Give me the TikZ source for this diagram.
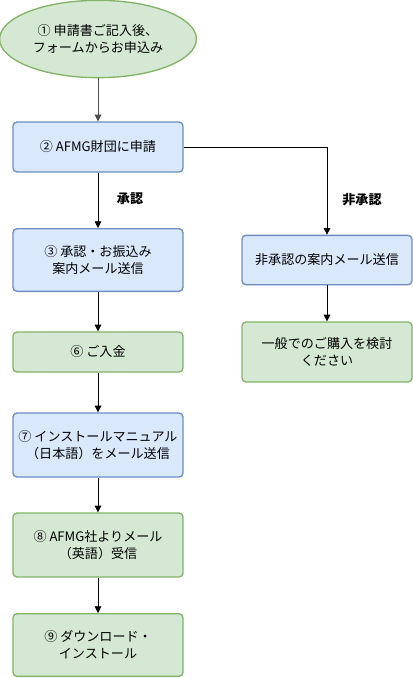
\documentclass[tikz,border=0pt]{standalone}
\usepackage{fontspec}
\setmainfont{Noto Sans CJK JP}
\usetikzlibrary{arrows.meta,shapes.geometric}
\definecolor{bluefill}{HTML}{DAE8FC}
\definecolor{blueline}{HTML}{6C8EBF}
\definecolor{greenfill}{HTML}{D5E8D4}
\definecolor{greenline}{HTML}{82B366}
\tikzset{
    box/.style={rectangle, rounded corners=3pt, line width=1pt, align=center,
        minimum width=127.5pt, font=\fontsize{9.8}{13}\selectfont, inner sep=2pt},
    bluebox/.style={box, draw=blueline, fill=bluefill},
    greenbox/.style={box, draw=greenline, fill=greenfill},
    flow/.style={-{Triangle[length=5pt,width=5pt]}, line width=0.6pt}
}
\begin{document}
\begin{tikzpicture}[x=0.75pt,y=-0.75pt]
            \useasboundingbox (0,0) rectangle (413,678);
            \path (98,39) node [ellipse, draw=greenline, fill=greenfill, line width=1pt,
                minimum width=144pt, minimum height=58pt, align=center,
                font=\fontsize{9.8}{13}\selectfont] (apply) {① 申請書ご記入後、\\フォームからお申込み};
            \path (98,147) node [bluebox, minimum height=37.5pt] (submit) {② AFMG財団に申請};
            \path (98,260) node [bluebox, minimum height=47pt] (approve) {③ 承認・お振込み\\案内メール送信};
            \path (98,352) node [greenbox, minimum height=30pt] (pay) {⑥ ご入金};
            \path (98,445) node [bluebox, minimum height=48pt] (manual) {⑦ インストールマニュアル\\（日本語）をメール送信};
            \path (98,545) node [greenbox, minimum height=48pt] (mail) {⑧ AFMG社よりメール\\（英語）受信};
            \path (98,645) node [greenbox, minimum height=47pt] (install) {⑨ ダウンロード・\\インストール};
            \path (327,260) node [bluebox, minimum height=37pt] (reject) {非承認の案内メール送信};
            \path (327,352) node [greenbox, minimum height=45pt] (buy) {一般でのご購入を検討\\ください};

            \draw [flow, black!70] (apply) -- (submit);
            \foreach \a/\b in {submit/approve,approve/pay,pay/manual,manual/mail,mail/install,reject/buy}
                \draw [flow] (\a) -- (\b);
            \draw [flow] (submit.east) -| (reject.north);
            \path (130,199) node [font=\bfseries\fontsize{9.8}{13}\selectfont] (yes) {承認};
            \path (362,200) node [font=\bfseries\fontsize{9.8}{13}\selectfont] (no) {非承認};
        \end{tikzpicture}
\end{document}
